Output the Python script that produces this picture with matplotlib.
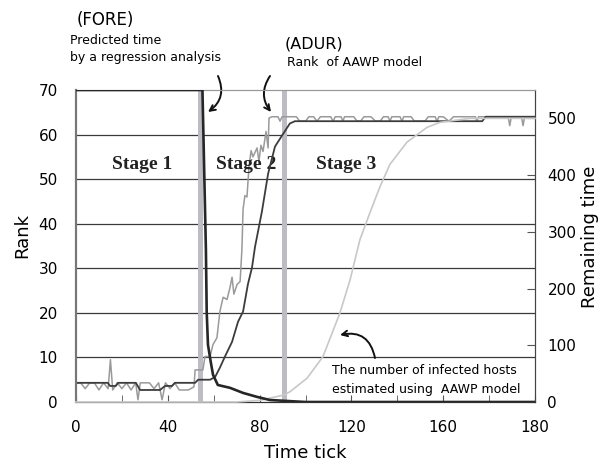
import matplotlib
matplotlib.use("Agg")
import matplotlib.pyplot as plt

plt.rcParams['font.family'] = ['DejaVu Sans']

# x tick positions and the labels printed under them
x_ticks = [0, 40, 80, 120, 160, 200]
x_tick_labels = ["0", "40", "80", "120", "160", "180"]
rank_ticks = [0, 10, 20, 30, 40, 50, 60, 70]
time_ticks = [0, 100, 200, 300, 400, 500]

# stage boundaries (time tick)
stage_bounds = [54.0, 90.6]

# (FORE) predicted remaining time by regression analysis - right axis
fore_x = [0, 55.1, 56.6, 56.95, 57.5, 58.7, 59.7, 61.8, 67.1, 72.8, 78.9, 84.5, 92.0, 100, 200]
fore_y = [550, 550, 269, 159, 101, 71, 48, 30, 25, 16, 9, 3.5, 1.8, 0, 0]

# (ADUR) rank of AAWP model, smooth dark line - left axis
adur_x = [0, 13.9, 14.8, 17.4, 18.3, 26.1, 27.9, 36.6, 38.8, 41.8, 43.1, 51.9, 53.2,
          58.4, 60.6, 62.7, 64.9, 68.0, 70.6, 72.8, 74.9, 76.7, 78.0, 81.0, 83.7,
          86.7, 89.8, 93.2, 95.4, 177, 178.5, 200]
adur_y = [4.3, 4.3, 3.6, 3.6, 4.3, 4.3, 2.7, 2.7, 3.6, 3.6, 4.3, 4.3, 5.0,
          5.0, 5.6, 7.7, 10.2, 13.5, 18, 20.3, 26.4, 30.2, 34.8, 42.7, 51.2,
          57.3, 59.8, 62.5, 63, 63, 64, 64]

# observed rank, jagged gray line - left axis
rank_x = [0, 2, 4, 6, 8, 10, 12, 14, 15, 16, 18, 20, 22, 24, 26, 27, 28, 30, 32, 34,
          36, 37.5, 39, 41, 43, 45, 47, 49, 51.4, 51.9, 55.3, 56.2, 58.4, 59.7, 61.4,
          62.7, 64.1, 65.8, 67.1, 68.0, 68.8, 70.2, 71.5, 72.3, 72.8, 73.6, 74.5,
          75.4, 76.3, 77.1, 78.9, 79.7, 80.6, 81.5, 82.8, 83.7, 84.1, 85.4,
          88.0, 88.9, 89.8, 96.0, 97.5, 100.0, 101.5, 103.5, 105.0, 106.5, 111.0,
          112.0, 113.0, 115.5, 116.3, 117.0, 121.0, 122.5, 124.0, 125.5, 128.5,
          130.5, 132.5, 134.0, 136.0, 136.8, 137.6, 141.2, 142.0, 142.8, 146.0,
          147.5, 152.0, 153.5, 156.5, 157.3, 158.1, 160.0, 162.5, 164.5, 174.0,
          174.7, 175.4, 188.3, 189.0, 189.7, 194.1, 194.8, 195.5, 200]
rank_y = [4.3, 4.3, 3.0, 4.3, 4.3, 2.7, 4.3, 3.0, 9.5, 2.7, 4.3, 3.0, 4.3, 2.7, 4.3, 0.5, 4.3, 4.3, 4.3, 3.0,
          4.3, 0.5, 4.3, 3.0, 4.3, 2.7, 2.7, 2.7, 3.4, 7.2, 7.2, 10.2, 10.2, 12.9, 14.4,
          20.3, 23.5, 23, 25.7, 28, 24.2, 26.4, 27, 34.3, 43.3, 46.3, 46,
          53, 56.4, 55, 57, 54, 57.6, 56.2, 60.7, 57, 63.7, 64,
          64, 63, 64, 64, 63, 63, 64, 64, 63, 64, 64,
          63, 64, 64, 63, 64, 64, 63, 63, 64, 64,
          63, 63, 64, 64, 63, 64, 64, 63, 64, 64,
          63, 63, 64, 64, 63, 64, 64, 63, 64, 64,
          63, 64, 64, 62, 64, 64, 62, 64, 64]

# number of infected hosts estimated using AAWP model - right axis scale
host_x = [0, 70, 80.2, 90.2, 93.2, 100.7, 107.6, 115.0, 119.4, 123.7, 128.1, 132.5,
          136.8, 144.2, 152.9, 158.6, 171.7, 200]
host_y = [0, 0, 3, 12, 18, 42, 80, 157, 215, 286, 334, 380,
          419, 458, 484, 493, 500, 500]

stage_names = ["Stage 1", "Stage 2", "Stage 3"]
stage_x = [28.6, 74.0, 117.6]

fig = plt.figure(figsize=(6.05, 4.69), dpi=100)
ax = fig.add_axes([76 / 605, 67 / 469, 459 / 605, 312 / 469])
ax2 = ax.twinx()

ax.set_xlim(0, 200)
ax.set_ylim(0, 70)
ax2.set_ylim(0, 550)

for r in rank_ticks[1:-1]:
    ax.axhline(r, color='#3a3a3a', lw=0.9, zorder=1)
for b in stage_bounds:
    ax.axvline(b, color='#bcbcc4', lw=3.6, zorder=2)

ax.plot(rank_x, rank_y, color='#9a9a9a', lw=1.1, zorder=3)
ax.plot(adur_x, adur_y, color='#3c3c3c', lw=1.3, zorder=4)
ax2.plot(host_x, host_y, color='#c8c8c8', lw=1.2, zorder=3, clip_on=False)
ax2.plot(fore_x, fore_y, color='#262626', lw=1.9, zorder=5)

for name, sx in zip(stage_names, stage_x):
    ax.text(sx, 53.3, name, family='Liberation Serif', weight='bold', fontsize=14,
            ha='center', va='center', color='#222222')

ax.set_xticks(x_ticks)
ax.set_xticklabels(x_tick_labels)
ax.set_xticks(range(0, 201, 20), minor=True)
ax.set_yticks(rank_ticks)
ax2.set_yticks(time_ticks)
ax.tick_params(axis='x', which='both', direction='in', length=5, pad=13, labelsize=11,
               color='#555555', top=False)
ax.tick_params(axis='y', direction='in', length=0, pad=13, labelsize=11)
ax2.tick_params(axis='y', direction='in', length=6, pad=9, labelsize=11, color='#555555')

for a in (ax, ax2):
    a.spines['left'].set_color('#777777')
    a.spines['left'].set_linewidth(1.5)
    a.spines['top'].set_color('#999999')
    a.spines['bottom'].set_color('#333333')
    a.spines['right'].set_color('#444444')

ax.set_xlabel("Time tick", fontsize=13)
ax.xaxis.set_label_coords(0.5, -0.135)
ax.set_ylabel("Rank", fontsize=13)
ax.yaxis.set_label_coords(-0.098, 0.535)
ax2.set_ylabel("Remaining time", fontsize=13)
ax2.yaxis.set_label_coords(1.1, 0.53)

# annotations in figure pixels (origin bottom-left)
fig.text(77 / 605, 1 - 20 / 469, "(FORE)", fontsize=12, va='center', ha='left')
fig.text(70 / 605, 1 - 41 / 469, "Predicted time", fontsize=9, va='center', ha='left')
fig.text(70 / 605, 1 - 57 / 469, "by a regression analysis", fontsize=9, va='center', ha='left')
fig.text(285 / 605, 1 - 44 / 469, "(ADUR)", fontsize=11.5, va='center', ha='left')
fig.text(287 / 605, 1 - 63 / 469, "Rank  of AAWP model", fontsize=9, va='center', ha='left')
fig.text(332 / 605, 1 - 370 / 469, "The number of infected hosts", fontsize=9, va='center', ha='left')
fig.text(332 / 605, 1 - 390 / 469, "estimated using  AAWP model", fontsize=9, va='center', ha='left')

arrow = dict(arrowstyle='->', color='#111111', lw=1.4, shrinkA=0, shrinkB=0)
ax.annotate("", xy=(208, 469 - 112), xytext=(218, 469 - 76), xycoords='figure pixels',
            textcoords='figure pixels',
            arrowprops=dict(arrow, connectionstyle='arc3,rad=-0.4'))
ax.annotate("", xy=(271, 469 - 112), xytext=(270, 469 - 76), xycoords='figure pixels',
            textcoords='figure pixels',
            arrowprops=dict(arrow, connectionstyle='arc3,rad=0.35'))
ax.annotate("", xy=(340, 469 - 335), xytext=(375, 469 - 358), xycoords='figure pixels',
            textcoords='figure pixels',
            arrowprops=dict(arrow, connectionstyle='arc3,rad=0.5'))

fig.savefig("out.png", dpi=100)
